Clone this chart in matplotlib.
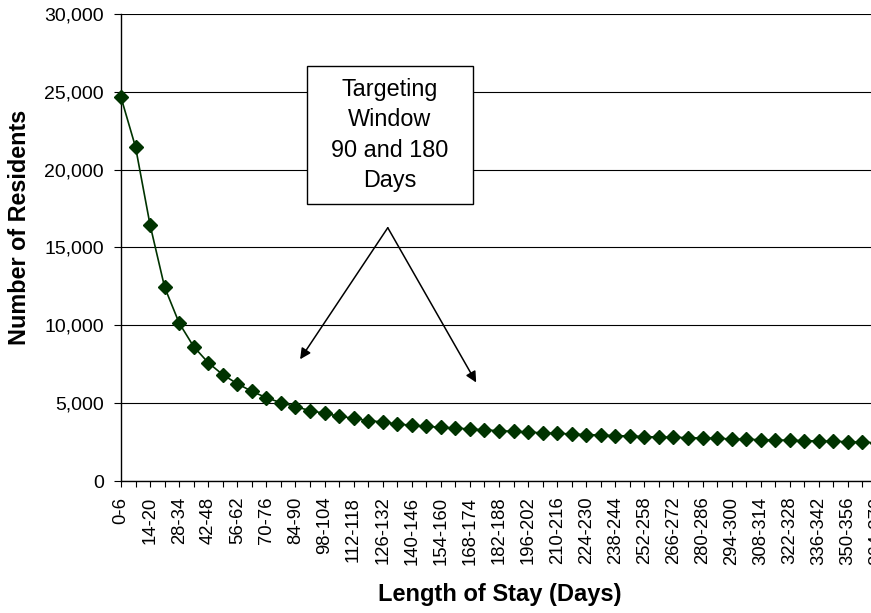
import matplotlib.pyplot as plt
from matplotlib.patches import Rectangle

plt.rcParams['font.family'] = ['Liberation Sans', 'DejaVu Sans']

# length-of-stay buckets (days)
stay_ranges = ['0-6', '7-13', '14-20', '21-27', '28-34', '35-41', '42-48', '49-55',
               '56-62', '63-69', '70-76', '77-83', '84-90', '91-97', '98-104',
               '105-111', '112-118', '119-125', '126-132', '133-139', '140-146',
               '147-153', '154-160', '161-167', '168-174', '175-181', '182-188',
               '189-195', '196-202', '203-209', '210-216', '217-223', '224-230',
               '231-237', '238-244', '245-251', '252-258', '259-265', '266-272',
               '273-279', '280-286', '287-293', '294-300', '301-307', '308-314',
               '315-321', '322-328', '329-335', '336-342', '343-349', '350-356',
               '357-363', '364-370']

# residents still in the facility for each bucket
residents = [24650, 21450, 16450, 12450, 10150, 8630, 7600, 6830, 6250, 5760,
             5350, 5030, 4780, 4520, 4350, 4160, 4030, 3880, 3790, 3660,
             3580, 3510, 3450, 3400, 3340, 3280, 3230, 3190, 3150, 3085,
             3060, 3020, 2975, 2955, 2910, 2890, 2850, 2825, 2805, 2785,
             2760, 2740, 2700, 2675, 2655, 2635, 2615, 2590, 2570, 2550,
             2525, 2485, 2460]

y_ticks = [0, 5000, 10000, 15000, 20000, 25000, 30000]

fig = plt.figure(figsize=(8.71, 6.13), dpi=100)
# plot area runs slightly past the right edge of the image
ax = fig.add_axes([121 / 871, 1 - 481 / 613, 756 / 871, 467 / 613])

x = list(range(len(stay_ranges)))
ax.plot(x, residents, color='#003300', lw=1.2, marker='D', markersize=7.3,
        markerfacecolor='#003300', markeredgecolor='#003300', zorder=3,
        clip_on=False)

ax.set_xlim(0, len(stay_ranges) - 1)
ax.set_ylim(0, 30000)

ax.set_yticks(y_ticks)
ax.set_yticklabels([f'{v:,}' for v in y_ticks])
ax.yaxis.grid(True, color='black', lw=0.8)
ax.set_axisbelow(True)

ax.set_xticks(x)
ax.set_xticklabels([s if i % 2 == 0 else '' for i, s in enumerate(stay_ranges)],
                   rotation=90)

ax.tick_params(axis='y', direction='out', length=5.3, width=0.8, pad=7,
               labelsize=14)
ax.tick_params(axis='x', direction='out', length=4.3, width=0.8, pad=7,
               labelsize=13.3)

for side in ['top', 'right']:
    ax.spines[side].set_visible(False)
ax.spines['left'].set_linewidth(1.0)
ax.spines['bottom'].set_linewidth(1.0)

fig.text(20 / 871, 1 - 227 / 613, 'Number of Residents', rotation=90,
         ha='center', va='center', fontsize=16.8, fontweight='bold')
fig.text(500 / 871, 1 - 595 / 613, 'Length of Stay (Days)',
         ha='center', va='center', fontsize=17, fontweight='bold')

# call-out box
ax.add_patch(Rectangle((0.2464, 0.5925), 0.2188, 0.2968, transform=ax.transAxes,
                       facecolor='white', edgecolor='black', lw=1.0, zorder=4))
ax.text(0.3558, 0.7409, 'Targeting\nWindow\n90 and 180\nDays',
        transform=ax.transAxes, ha='center', va='center', fontsize=16.8,
        linespacing=1.42, zorder=5)

# arrows pointing at the 90 and 180 day region
apex = (18.35, 16270)
for tip in [(12.32, 7820), (24.43, 6330)]:
    ax.annotate('', xy=tip, xytext=apex,
                arrowprops=dict(arrowstyle='-|>', color='black', lw=1.1,
                                mutation_scale=16, shrinkA=0, shrinkB=0),
                zorder=5)

plt.savefig('out.png', dpi=100)
